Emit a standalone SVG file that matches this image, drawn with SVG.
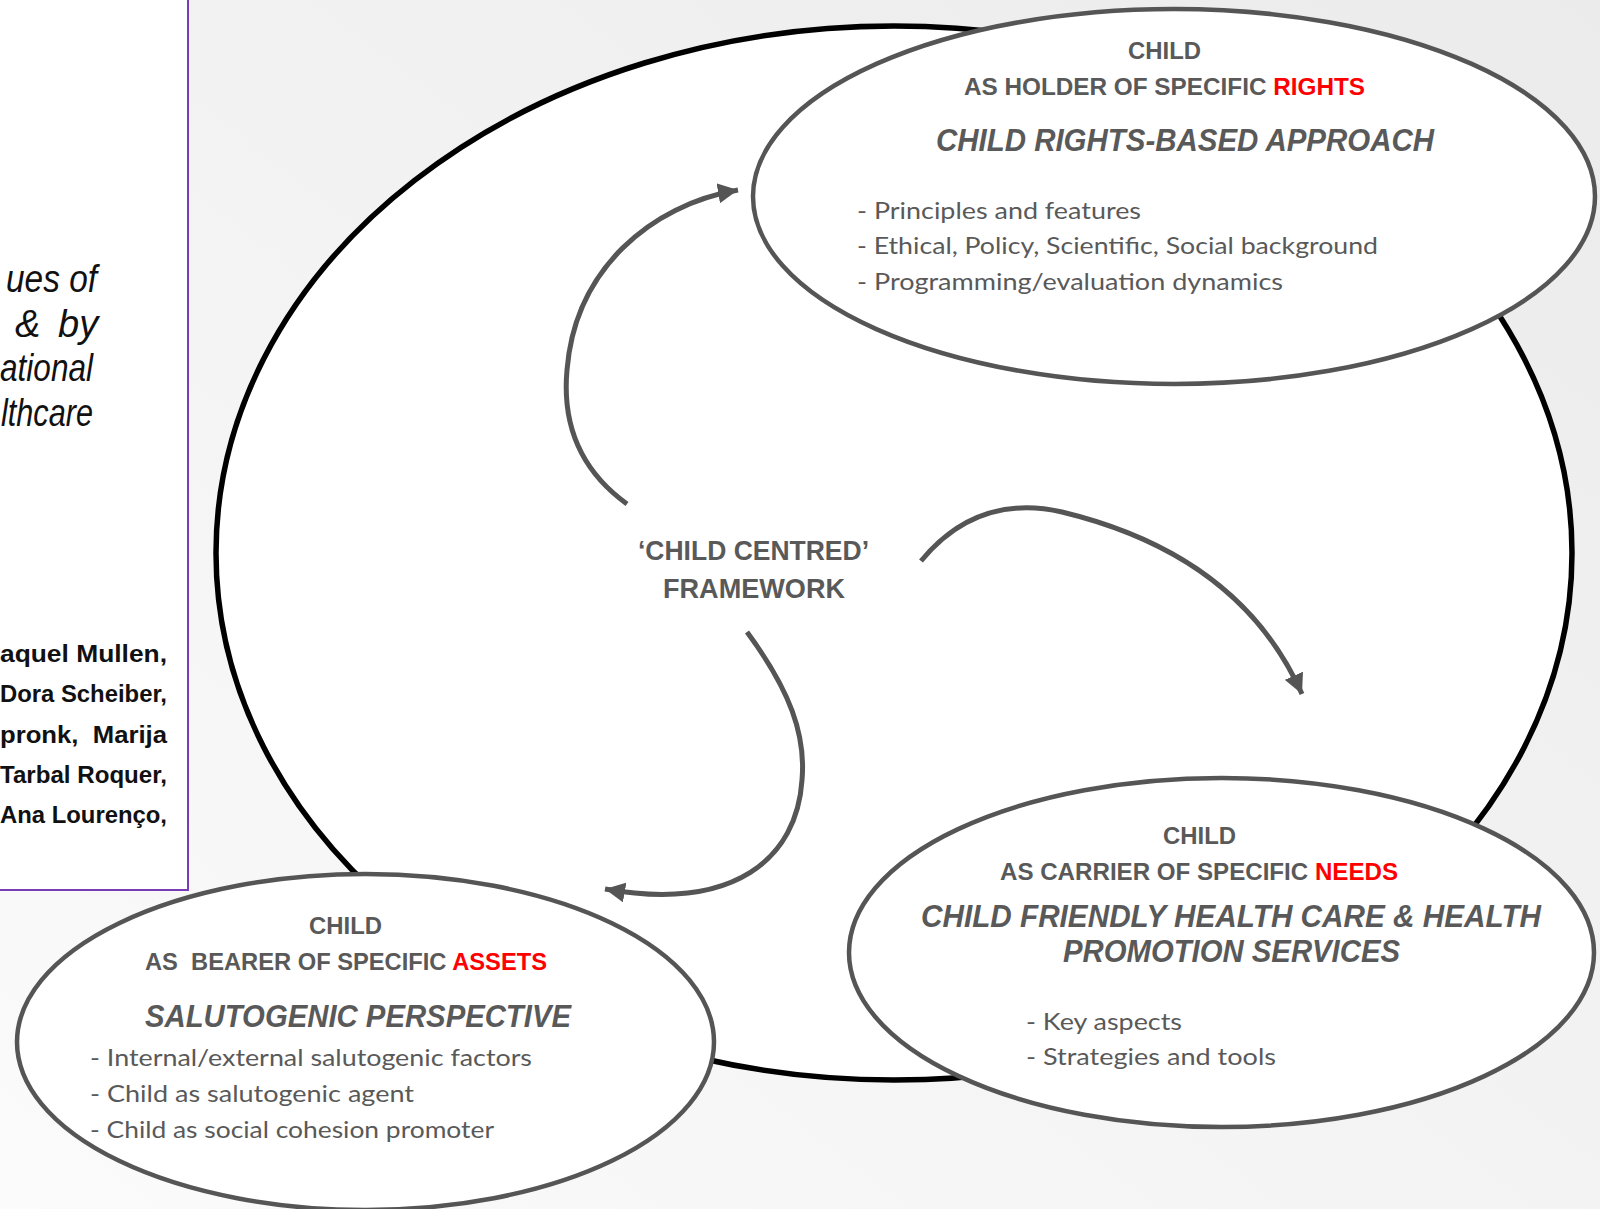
<svg xmlns="http://www.w3.org/2000/svg" width="1600" height="1209" viewBox="0 0 1600 1209">
<defs>
<linearGradient id="bg" x1="1" y1="0" x2="0" y2="1">
<stop offset="0" stop-color="#ebebeb"/>
<stop offset="1" stop-color="#fbfbfb"/>
</linearGradient>
<marker id="ah" markerUnits="userSpaceOnUse" markerWidth="22" markerHeight="20" refX="20" refY="10" orient="auto">
<path d="M0,0 L20,10 L0,20 z" fill="#555"/>
</marker>
<style>
.hd{font-family:"Liberation Sans Narrow","Liberation Sans",Arial,sans-serif;font-weight:bold;font-size:24px;fill:#595959}
.red{fill:#ff0000}
.it{font-family:"Liberation Sans",Arial,sans-serif;font-weight:bold;font-style:italic;font-size:31px;fill:#595959}
.bl{font-family:Lato,"Liberation Sans",sans-serif;font-size:23.5px;fill:#595959}
.ctr{font-family:"Liberation Sans",Arial,sans-serif;font-weight:bold;font-size:28px;fill:#595959}
.pn{font-family:"Liberation Sans",Arial,sans-serif;font-style:italic;font-size:38px;fill:#111}
.nm{font-family:"Liberation Sans",Arial,sans-serif;font-weight:bold;font-size:23px;fill:#111}
.big{fill:#fff;stroke:#000;stroke-width:5.5}
.node{fill:#fff;stroke:#555;stroke-width:4.5}
.arr{fill:none;stroke:#555;stroke-width:5;marker-end:url(#ah)}
</style>
</defs>
<rect x="0" y="0" width="1600" height="1209" fill="url(#bg)"/>

<g id="left-panel">
<rect x="-5" y="-5" width="193" height="895" fill="#fff" stroke="#7a3cb4" stroke-width="2"/>
<text class="pn" x="6" y="292" textLength="91" lengthAdjust="spacingAndGlyphs">ues of</text>
<text class="pn" y="337"><tspan x="15">&amp;</tspan><tspan x="58">by</tspan></text>
<text class="pn" x="0" y="381" textLength="93" lengthAdjust="spacingAndGlyphs">ational</text>
<text class="pn" x="1" y="426" textLength="92" lengthAdjust="spacingAndGlyphs">lthcare</text>
<text class="nm" x="0" y="662" textLength="167" lengthAdjust="spacingAndGlyphs">aquel Mullen,</text>
<text class="nm" x="0" y="702" textLength="167" lengthAdjust="spacingAndGlyphs">Dora Scheiber,</text>
<text class="nm" x="0" y="743" textLength="167" lengthAdjust="spacingAndGlyphs" xml:space="preserve">pronk,  Marija</text>
<text class="nm" x="0" y="783" textLength="167" lengthAdjust="spacingAndGlyphs">Tarbal Roquer,</text>
<text class="nm" x="0" y="823" textLength="167" lengthAdjust="spacingAndGlyphs">Ana Lourenço,</text>
</g>

<g id="framework">
<ellipse class="big" cx="894" cy="553" rx="678" ry="527"/>
<text class="ctr" x="638" y="560" textLength="231" lengthAdjust="spacingAndGlyphs">‘CHILD CENTRED’</text>
<text class="ctr" x="663" y="598" textLength="182" lengthAdjust="spacingAndGlyphs">FRAMEWORK</text>
</g>

<g id="connectors">
<path class="arr" d="M627,504 C580,470 562,425 567,370 C575,270 650,205 738,190"/>
<path class="arr" d="M921,561 Q977,493 1062,512 Q1240,555 1302,694"/>
<path class="arr" d="M747,632 C790,690 806,735 802,780 C797,858 735,912 605,889"/>
</g>

<g id="rights">
<ellipse class="node" cx="1174" cy="196.5" rx="421" ry="187.5"/>
<text class="hd" x="1128" y="59" textLength="73" lengthAdjust="spacingAndGlyphs">CHILD</text>
<text class="hd" x="964" y="95" textLength="401" lengthAdjust="spacingAndGlyphs">AS HOLDER OF SPECIFIC <tspan class="red">RIGHTS</tspan></text>
<text class="it" x="936" y="151" textLength="498" lengthAdjust="spacingAndGlyphs">CHILD RIGHTS-BASED APPROACH</text>
<text class="bl" x="857" y="219" textLength="284" lengthAdjust="spacingAndGlyphs">- Principles and features</text>
<text class="bl" x="857" y="254" textLength="521" lengthAdjust="spacingAndGlyphs">- Ethical, Policy, Scientific, Social background</text>
<text class="bl" x="857" y="290" textLength="426" lengthAdjust="spacingAndGlyphs">- Programming/evaluation dynamics</text>
</g>

<g id="needs">
<ellipse class="node" cx="1221.5" cy="952.5" rx="372.5" ry="174.5"/>
<text class="hd" x="1163" y="844" textLength="73" lengthAdjust="spacingAndGlyphs">CHILD</text>
<text class="hd" x="1000" y="880" textLength="398" lengthAdjust="spacingAndGlyphs">AS CARRIER OF SPECIFIC <tspan class="red">NEEDS</tspan></text>
<text class="it" x="921" y="927" textLength="620" lengthAdjust="spacingAndGlyphs">CHILD FRIENDLY HEALTH CARE &amp; HEALTH</text>
<text class="it" x="1063" y="962" textLength="337" lengthAdjust="spacingAndGlyphs">PROMOTION SERVICES</text>
<text class="bl" x="1026" y="1030" textLength="156" lengthAdjust="spacingAndGlyphs">- Key aspects</text>
<text class="bl" x="1026" y="1065" textLength="250" lengthAdjust="spacingAndGlyphs">- Strategies and tools</text>
</g>

<g id="assets">
<ellipse class="node" cx="365.5" cy="1042" rx="348.5" ry="168"/>
<text class="hd" x="309" y="934" textLength="73" lengthAdjust="spacingAndGlyphs">CHILD</text>
<text class="hd" x="145" y="970" textLength="402" lengthAdjust="spacingAndGlyphs" xml:space="preserve">AS  BEARER OF SPECIFIC <tspan class="red">ASSETS</tspan></text>
<text class="it" x="145" y="1027" textLength="426" lengthAdjust="spacingAndGlyphs">SALUTOGENIC PERSPECTIVE</text>
<text class="bl" x="90" y="1066" textLength="442" lengthAdjust="spacingAndGlyphs">- Internal/external salutogenic factors</text>
<text class="bl" x="90" y="1102" textLength="324" lengthAdjust="spacingAndGlyphs">- Child as salutogenic agent</text>
<text class="bl" x="90" y="1138" textLength="404" lengthAdjust="spacingAndGlyphs">- Child as social cohesion promoter</text>
</g>
</svg>
